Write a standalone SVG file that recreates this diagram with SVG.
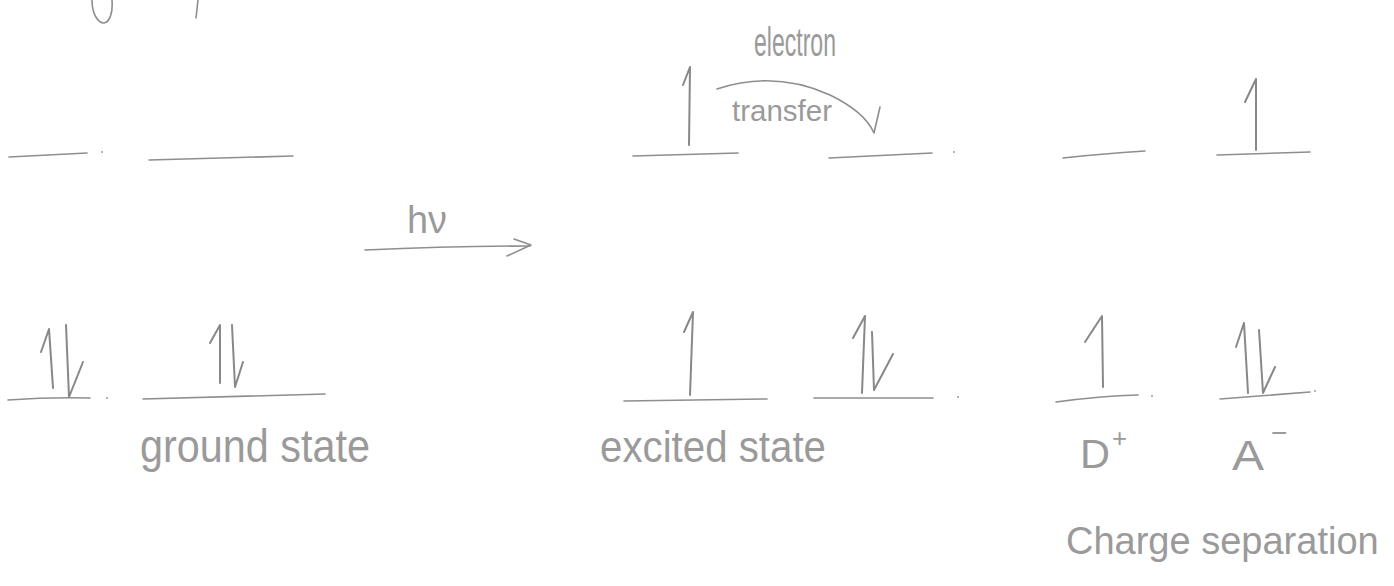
<svg xmlns="http://www.w3.org/2000/svg" width="1394" height="586" viewBox="0 0 1394 586">
<style>
.ln{fill:none;stroke:#8e8e8e;stroke-width:1.6;stroke-linecap:round;stroke-linejoin:round}
.sp{fill:none;stroke:#888;stroke-width:2;stroke-linecap:round;stroke-linejoin:round}
.dot{fill:#9a9a9a}
.t{font-family:"Liberation Sans","DejaVu Sans",sans-serif;fill:#9a9a9a;font-weight:normal}
</style>
<rect width="1394" height="586" fill="#ffffff"/>
<g id="fragments">
<path class="ln" d="M92,0 C92,14 98,23 104,23 C110,22 113,12 112,0"/>
<path class="ln" d="M198,0 L196,18"/>
</g>
<g id="ground-state">
<path class="ln" d="M9,157 L87,153"/>
<circle class="dot" cx="102" cy="152" r="1"/>
<path class="ln" d="M149,160 L293,156"/>
<path class="ln" d="M8,400 Q50,397 90,398"/>
<circle class="dot" cx="107" cy="398" r="1"/>
<path class="ln" d="M143,399 L325,394"/>
<path class="sp" d="M41,352 L49,329 L53,388"/>
<path class="sp" d="M66,325 L69,397 L83,362"/>
<path class="sp" d="M210,343 L220,325 L220,383"/>
<path class="sp" d="M232,325 L235,387 L243,362"/>
<text class="t" x="140" y="462" font-size="46" textLength="230" lengthAdjust="spacingAndGlyphs">ground state</text>
</g>
<g id="excited-state">
<path class="ln" d="M633,156 L738,153"/>
<path class="sp" d="M683,85 L690,67 L689,145"/>
<path class="ln" d="M829,158 L932,153"/>
<circle class="dot" cx="954" cy="152" r="1"/>
<path class="ln" d="M624,401 L767,399"/>
<path class="sp" d="M684,332 L693,312 L690,395"/>
<path class="ln" d="M814,398 L933,398"/>
<circle class="dot" cx="958" cy="397" r="1"/>
<path class="sp" d="M853,338 L865,316 L862,393"/>
<path class="sp" d="M872,332 L874,390 L893,354"/>
<text class="t" x="600" y="462" font-size="44" textLength="226" lengthAdjust="spacingAndGlyphs">excited state</text>
</g>
<g id="charge-separation">
<path class="ln" d="M1063,158 Q1100,154 1145,151"/>
<path class="ln" d="M1217,155 L1310,152"/>
<path class="sp" d="M1245,102 L1256,79 L1256,150"/>
<path class="ln" d="M1056,402 Q1100,396 1138,395"/>
<circle class="dot" cx="1152" cy="396" r="1"/>
<path class="sp" d="M1085,342 L1102,316 L1103,387"/>
<path class="ln" d="M1220,399 L1310,392"/>
<circle class="dot" cx="1315" cy="391" r="1"/>
<path class="sp" d="M1236,347 L1244,323 L1248,393"/>
<path class="sp" d="M1259,330 L1263,393 L1275,367"/>
<text class="t" x="1080" y="468" font-size="40" textLength="30" lengthAdjust="spacingAndGlyphs">D</text>
<text class="t" x="1112" y="447" font-size="26">+</text>
<text class="t" x="1232" y="470" font-size="42" textLength="32" lengthAdjust="spacingAndGlyphs">A</text>
<text class="t" x="1271" y="442" font-size="28">−</text>
<text class="t" x="1066" y="554" font-size="38">Charge separation</text>
</g>
<g id="connectors">
<path class="ln" d="M365,250 Q450,246 530,246"/>
<path class="ln" d="M514,239 L531,245 L507,256"/>
<text class="t" x="407" y="233" font-size="38" textLength="40" lengthAdjust="spacingAndGlyphs">hν</text>
<path class="ln" d="M717,89 Q775,70 830,95 Q865,112 874,133 L880,107"/>
<text class="t" x="754" y="56" font-size="40" textLength="82" lengthAdjust="spacingAndGlyphs">electron</text>
<text class="t" x="732" y="121" font-size="30" textLength="100" lengthAdjust="spacingAndGlyphs">transfer</text>
</g>
</svg>
